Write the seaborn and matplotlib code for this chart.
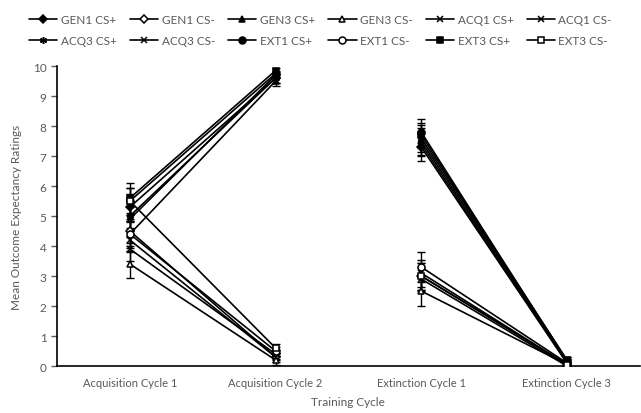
import matplotlib
matplotlib.use("Agg")
import matplotlib.pyplot as plt
import numpy as np
import pandas as pd
import seaborn as sns
from matplotlib.lines import Line2D

cycles = ["Acquisition Cycle 1", "Acquisition Cycle 2", "Extinction Cycle 1", "Extinction Cycle 3"]
series_names = ["GEN1 CS+", "GEN1 CS-", "GEN3 CS+", "GEN3 CS-", "ACQ1 CS+", "ACQ1 CS-",
                "ACQ3 CS+", "ACQ3 CS-", "EXT1 CS+", "EXT1 CS-", "EXT3 CS+", "EXT3 CS-"]

# mean ratings per cycle, same order as series_names
acq1_means = [5.3, 4.5, 4.4, 3.4, 4.9, 3.9, 5.0, 4.2, 5.5, 4.4, 5.6, 5.5]
acq2_means = [9.6, 0.3, 9.5, 0.2, 9.7, 0.4, 9.6, 0.3, 9.75, 0.5, 9.85, 0.6]
ext1_means = [7.3, 3.0, 7.5, 2.5, 7.4, 2.9, 7.6, 3.1, 7.8, 3.3, 7.7, 3.0]
ext3_means = [0.1, 0.05, 0.15, 0.05, 0.1, 0.0, 0.2, 0.05, 0.15, 0.1, 0.2, 0.05]

# standard errors
acq1_sem = [0.45, 0.4, 0.45, 0.45, 0.4, 0.4, 0.45, 0.4, 0.45, 0.4, 0.5, 0.45]
acq2_sem = [0.15, 0.15, 0.15, 0.15, 0.1, 0.15, 0.15, 0.1, 0.1, 0.15, 0.1, 0.15]
ext1_sem = [0.45, 0.45, 0.45, 0.5, 0.4, 0.4, 0.45, 0.45, 0.45, 0.5, 0.4, 0.45]
ext3_sem = [0.1, 0.05, 0.1, 0.05, 0.1, 0.05, 0.1, 0.05, 0.1, 0.05, 0.1, 0.05]

markers = ["D", "D", "^", "^", "x", "x", (6, 2, 0), "x", "o", "o", "s", "s"]
filled = [True, False, True, False, True, True, True, True, True, False, True, False]

rows = []
for i, name in enumerate(series_names):
    for c, (m, s) in enumerate(zip([acq1_means, acq2_means, ext1_means, ext3_means],
                                    [acq1_sem, acq2_sem, ext1_sem, ext3_sem])):
        rows.append({"series": name, "pos": c, "phase": "acq" if c < 2 else "ext",
                     "mean": m[i], "sem": s[i]})
df = pd.DataFrame(rows)

sns.set_style("white")
plt.rcParams["font.family"] = ["Lato", "DejaVu Sans"]
text_color = "#595959"


def marker_kw(i):
    return dict(marker=markers[i], markersize=4 if markers[i] == "D" else 5,
                markerfacecolor="black" if filled[i] else "white",
                markeredgecolor="black", markeredgewidth=1.1)


fig = plt.figure(figsize=(6.41, 4.14), dpi=100)
ax = fig.add_axes([0.089, 0.1135, 0.909, 0.7245])

for i, name in enumerate(series_names):
    sub = df[df["series"] == name]
    ax.errorbar(sub["pos"], sub["mean"], yerr=sub["sem"], fmt="none",
                ecolor="black", elinewidth=1, capsize=3, capthick=1, zorder=2)
    for phase, seg in sub.groupby("phase"):
        sns.lineplot(data=seg, x="pos", y="mean", ax=ax, color="black", lw=1.2,
                     legend=False, zorder=3, **marker_kw(i))

ax.set_xlim(-0.5, 3.5)
ax.set_ylim(0, 10)
ax.set_xticks(range(len(cycles)))
ax.set_xticklabels(cycles)
ax.set_yticks(range(0, 11))
ax.tick_params(axis="x", length=0, labelsize=8, colors=text_color, pad=8)
ax.tick_params(axis="y", length=4, width=1, direction="out", left=True,
               labelsize=8.5, colors=text_color)
ax.set_xlabel("Training Cycle", fontsize=8.5, color=text_color, labelpad=6)
ax.set_ylabel("Mean Outcome Expectancy Ratings", fontsize=8.5, color=text_color, labelpad=8)
for side in ["top", "right"]:
    ax.spines[side].set_visible(False)
for side in ["left", "bottom"]:
    ax.spines[side].set_color("black")
    ax.spines[side].set_linewidth(1.2)

# legend fills column-wise, so interleave to get two rows of six
order = [r * 6 + c for c in range(6) for r in range(2)]
handles = [Line2D([0], [0], color="black", lw=1.2, **marker_kw(i)) for i in order]
labels = [series_names[i] for i in order]
fig.legend(handles, labels, loc="upper center", bbox_to_anchor=(0.5, 0.99),
           ncol=6, frameon=False, fontsize=8.5, handlelength=2.4, handletextpad=0.3,
           columnspacing=1.1, labelspacing=0.9, labelcolor=text_color)

fig.savefig("out.png", dpi=100)
